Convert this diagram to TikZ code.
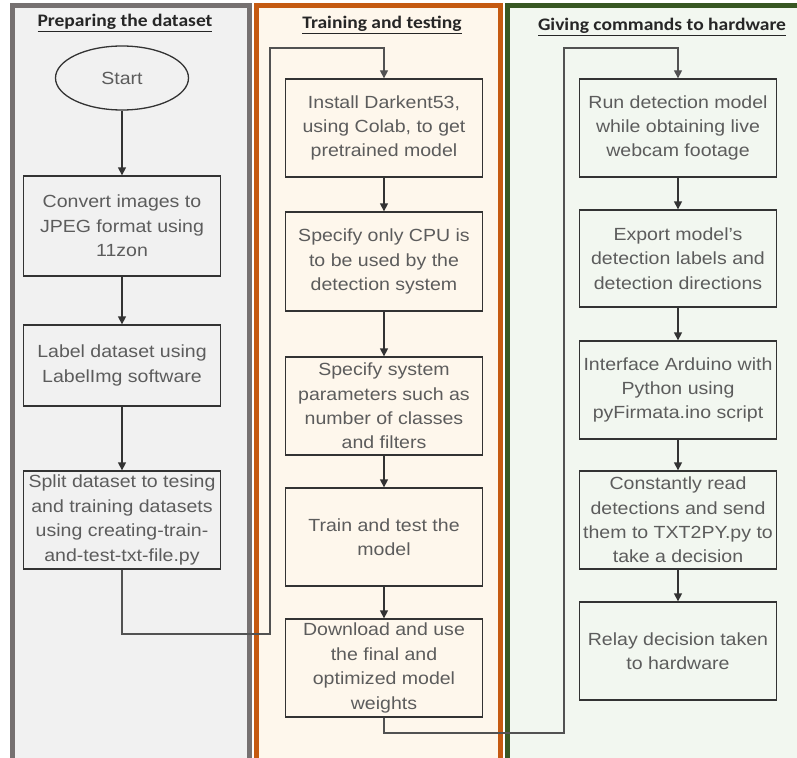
\documentclass[tikz,border=0pt]{standalone}
\usepackage{fontspec}
\setmainfont{Liberation Sans}[FakeStretch=1.11]
\newfontfamily\titlefont{Carlito}[FakeStretch=1.11]
\usetikzlibrary{arrows.meta,shapes.geometric}

\definecolor{lanegray}{HTML}{767171}
\definecolor{laneorange}{HTML}{C55A11}
\definecolor{lanegreen}{HTML}{385723}
\definecolor{fillgray}{HTML}{F1F1F1}
\definecolor{fillorange}{HTML}{FEF7EC}
\definecolor{fillgreen}{HTML}{F2F7F0}
\definecolor{txt}{HTML}{5C5C5C}
\definecolor{edge}{HTML}{333333}

\begin{document}
\begin{tikzpicture}[x=1pt,y=-1pt,
  lane/.style={line width=5pt},
  lanetitle/.style={font=\titlefont\bfseries\fontsize{17.6}{20}\selectfont, text=black!85, inner sep=0pt},
  stepbox/.style={draw=edge, line width=1.3pt, minimum width=197pt,
    align=center, font=\fontsize{17.6}{24.4}\selectfont, text=txt, inner sep=0pt},
  startnode/.style={ellipse, draw=edge, line width=1.3pt, minimum width=133pt, minimum height=64pt,
    font=\fontsize{17.6}{24.4}\selectfont, text=txt, inner sep=0pt},
  flow/.style={draw=edge, line width=1.3pt, -{Triangle[length=8pt,width=8pt]}},
  link/.style={draw=edge!85, line width=1.3pt, -{Triangle[length=8pt,width=8pt]}}]

\useasboundingbox (0,0) rectangle (797,757);
\clip (0,0) rectangle (797,757);
\fill[white] (0,0) rectangle (797,757);

% swimlanes
\draw[lane, draw=lanegray, fill=fillgray] (12.5,5.5) rectangle (249.5,800);
\draw[lane, draw=laneorange, fill=fillorange] (256.5,5.5) rectangle (500.5,800);
\draw[lane, draw=lanegreen, fill=fillgreen] (507.5,5.5) rectangle (830,800);

% lane titles
\node[lanetitle] (t1) at (125,23) {\underline{Preparing the dataset}};
\node[lanetitle] (t2) at (382,25) {\underline{Training and testing}};
\node[lanetitle] (t3) at (662,27) {\underline{Giving commands to hardware}};

% preparing the dataset
\node[startnode] (start) at (122,78) {Start};
\node[stepbox, minimum height=100pt] (convert) at (122,226) {Convert images to\\JPEG format using\\11zon};
\node[stepbox, minimum height=81pt] (label) at (122,365.5) {Label dataset using\\LabelImg software};
\node[stepbox, minimum height=98pt] (split) at (122,520) {Split dataset to tesing\\and training datasets\\using creating-train-\\and-test-txt-file.py};

% training and testing
\node[stepbox, minimum height=98pt] (install) at (384,128) {Install Darkent53,\\using Colab, to get\\pretrained model};
\node[stepbox, minimum height=99pt] (cpu) at (384,261.5) {Specify only CPU is\\to be used by the\\detection system};
\node[stepbox, minimum height=98pt] (params) at (384,406) {Specify system\\parameters such as\\number of classes\\and filters};
\node[stepbox, minimum height=98pt] (train) at (384,537) {Train and test the\\model};
\node[stepbox, minimum height=98pt] (weights) at (384,668) {Download and use\\the final and\\optimized model\\weights};

% giving commands to hardware
\node[stepbox, minimum height=98pt] (run) at (678,128) {Run detection model\\while obtaining live\\webcam footage};
\node[stepbox, minimum height=97pt] (export) at (678,258.5) {Export model's\\detection labels and\\detection directions};
\node[stepbox, minimum height=98pt] (arduino) at (678,390) {Interface Arduino with\\Python using\\pyFirmata.ino script};
\node[stepbox, minimum height=98pt] (read) at (678,520) {Constantly read\\detections and send\\them to TXT2PY.py to\\take a decision};
\node[stepbox, minimum height=98pt] (relay) at (678,651) {Relay decision taken\\to hardware};

% flow inside the lanes
\draw[flow] (start) -- (convert);
\draw[flow] (convert) -- (label);
\draw[flow] (label) -- (split);
\draw[flow] (install) -- (cpu);
\draw[flow] (cpu) -- (params);
\draw[flow] (params) -- (train);
\draw[flow] (train) -- (weights);
\draw[flow] (run) -- (export);
\draw[flow] (export) -- (arduino);
\draw[flow] (arduino) -- (read);
\draw[flow] (read) -- (relay);

% hand-overs between lanes
\draw[link] (split.south) |- (270,634) |- (384,48) -- (install.north);
\draw[link] (weights.south) |- (564,733) |- (678,48) -- (run.north);
\end{tikzpicture}
\end{document}
